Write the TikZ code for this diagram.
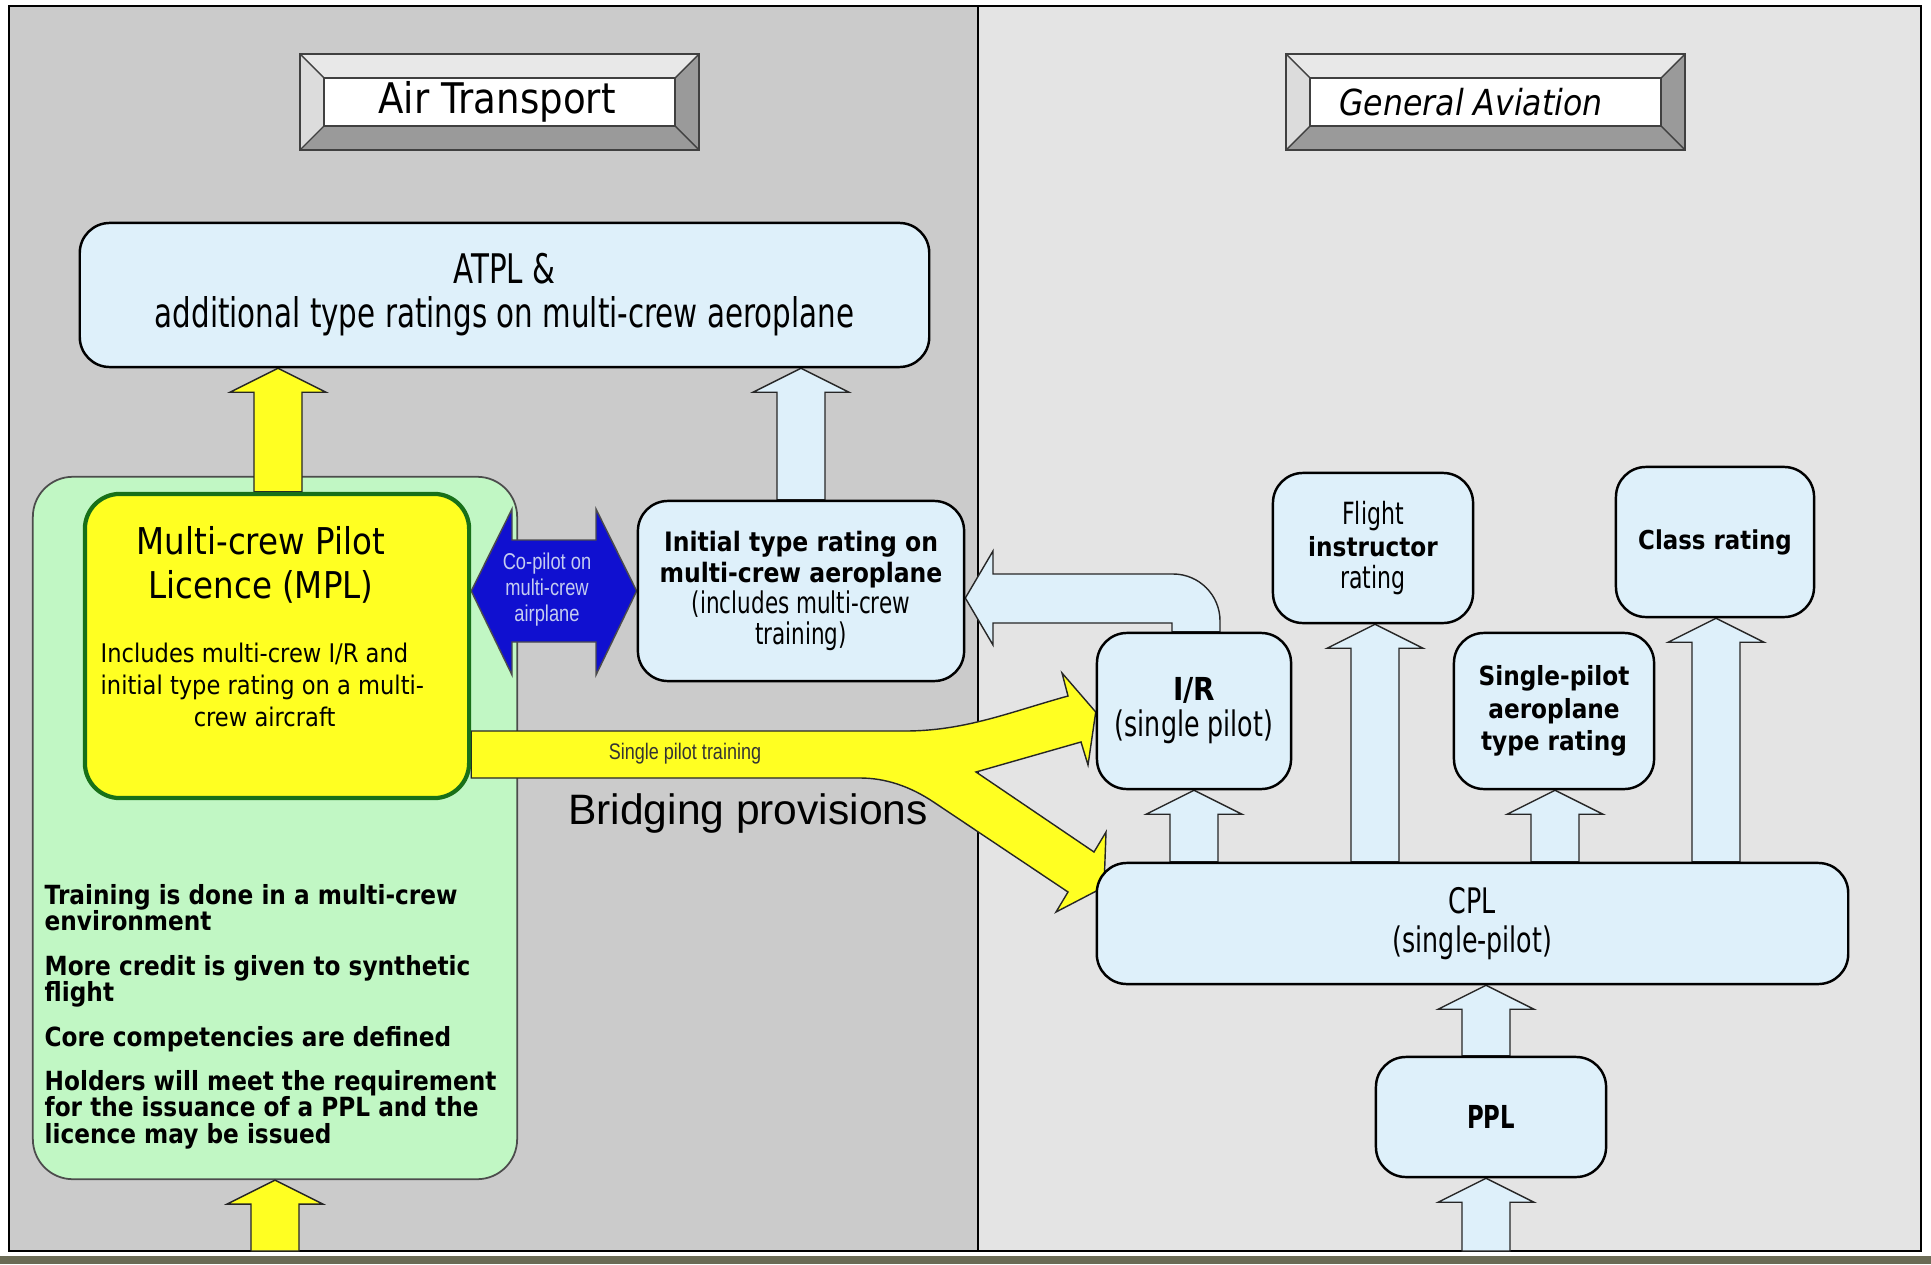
\documentclass[tikz,border=0pt]{standalone}
\usepackage{fontspec}
\setmainfont{DejaVu Sans}
\newfontfamily\comicfont[FakeStretch=0.88]{DejaVu Sans}
\newfontfamily\comicnarrow[FakeStretch=0.72]{DejaVu Sans}
\newfontfamily\arialfont{Liberation Sans}
\newfontfamily\arialnarrow[FakeStretch=0.8]{Liberation Sans}
\usetikzlibrary{calc}

\definecolor{leftgrey}{RGB}{203,203,203}
\definecolor{rightgrey}{RGB}{228,228,228}
\definecolor{boxblue}{RGB}{222,240,250}
\definecolor{arryellow}{RGB}{255,255,34}
\definecolor{envgreen}{RGB}{193,247,196}
\definecolor{mplgreen}{RGB}{24,112,24}
\definecolor{copilotblue}{RGB}{16,16,208}
\definecolor{copilottext}{RGB}{196,204,240}
\definecolor{bandolive}{RGB}{107,107,85}
\definecolor{bevellight}{RGB}{232,232,232}
\definecolor{bevelside}{RGB}{220,220,220}
\definecolor{beveldark}{RGB}{154,154,154}

\pgfdeclarelayer{panels}
\pgfdeclarelayer{arrows}
\pgfsetlayers{panels,arrows,main}

\newcommand{\fs}[2]{\fontsize{#1}{#2}\selectfont}

% bevelled title plate: left x, right x, node name, text x, text
\newcommand{\titleplate}[5]{%
  \fill[bevellight] (#1,54) -- (#2,54) -- (#2-24,78) -- (#1+24,78) -- cycle;
  \fill[bevelside] (#1,54) -- (#1+24,78) -- (#1+24,126) -- (#1,150) -- cycle;
  \fill[beveldark] (#2,54) -- (#2,150) -- (#2-24,126) -- (#2-24,78) -- cycle;
  \fill[beveldark] (#1,150) -- (#2,150) -- (#2-24,126) -- (#1+24,126) -- cycle;
  \draw[line width=0.4pt, black!75] (#1,54) -- (#1+24,78) (#2,54) -- (#2-24,78)
    (#1,150) -- (#1+24,126) (#2,150) -- (#2-24,126);
  \filldraw[fill=white, draw=black!75, line width=0.4pt] (#1+24,78) rectangle (#2-24,126);
  \draw[line width=0.5pt, black!75] (#1,54) rectangle (#2,150);
  \node (#3) at (#4,102) {#5};}

% block arrow pointing up: style, x, lower anchor, upper anchor
\newcommand{\blockup}[4]{%
  \filldraw[#1] (#2-24,0 |- #3) -- ($(#2-24,0 |- #4)+(0,24)$)
    -- ($(#2-48,0 |- #4)+(0,24)$) -- (#2,0 |- #4)
    -- ($(#2+48,0 |- #4)+(0,24)$) -- ($(#2+24,0 |- #4)+(0,24)$)
    -- (#2+24,0 |- #3) -- cycle;}

\tikzset{
  lbbox/.style={draw, line width=0.7pt, fill=boxblue, rounded corners=0.3cm,
    inner sep=0pt, align=center},
  envbox/.style={draw=black!70, line width=0.5pt, fill=envgreen, rounded corners=0.4cm,
    inner sep=0pt},
  mplbox/.style={draw=mplgreen, line width=1.2pt, fill=arryellow, rounded corners=0.35cm,
    inner sep=0pt},
  bluearr/.style={fill=boxblue, draw=black!85, line width=0.4pt},
  yelarr/.style={fill=arryellow, draw=black!85, line width=0.4pt},
  copilotarr/.style={fill=copilotblue, draw=black!70, line width=0.4pt},
}

\begin{document}
\begin{tikzpicture}[x=0.01cm, y=-0.01cm]
    \useasboundingbox (0,0) rectangle (1931,1264);

    \begin{pgfonlayer}{panels}
        \fill[white] (0,0) rectangle (1931,1264);
        \fill[leftgrey] (9,6) rectangle (978,1251);
        \fill[rightgrey] (978,6) rectangle (1921,1251);
        \draw[line width=0.5pt] (9,6) rectangle (1921,1251);
        \draw[line width=0.5pt] (978,6) -- (978,1251);
        \fill[bandolive] (0,1256) rectangle (1931,1264);
        \coordinate (framebottom) at (0,1251);
        \node[envbox, minimum width=4.84cm, minimum height=7.02cm] (mplenv) at (275,828) {};
    \end{pgfonlayer}

    \titleplate{300}{699}{airtitle}{497}{\comicfont\fs{12}{13}Air Transport}
    \titleplate{1286}{1685}{gatitle}{1471}{\comicfont\itshape\fs{10.2}{13}General Aviation}

    % air transport side
    \node[lbbox, minimum width=8.49cm, minimum height=1.44cm, font=\comicnarrow\fs{11.6}{12.5}]
        (atpl) at (504.5,295) {ATPL \&\\additional type ratings on multi-crew aeroplane};
    \node[mplbox, minimum width=3.84cm, minimum height=3.04cm] (mpl) at (277,646) {};
    \node[font=\comicfont\fs{10.5}{12.5}, align=center] (mpltitle) at (261,565)
        {Multi-crew Pilot\\Licence (MPL)};
    \node[font=\comicfont\fs{7.3}{9.2}, align=left, anchor=north west, inner sep=0pt]
        (mpltext) at (100,642)
        {Includes multi-crew I/R and\\initial type rating on a multi-\\\hspace*{0.93cm}crew aircraft};
    \node[lbbox, minimum width=3.26cm, minimum height=1.8cm, font=\comicfont\fs{7.6}{8.8}]
        (itr) at (801,591) {\textbf{Initial type rating on}\\\textbf{multi-crew aeroplane}\\
        {\comicnarrow\fs{8.5}{8.8}(includes multi-crew}\\{\comicnarrow\fs{8.5}{8.8}training)}};
    \node[font=\comicfont\bfseries\fs{7.5}{7.45}, align=left, anchor=north west, inner sep=0pt]
        (envtext) at (44,884)
        {Training is done in a multi-crew\\environment\\[5.2pt]
         More credit is given to synthetic\\flight\\[5.2pt]
         Core competencies are defined\\[5.2pt]
         Holders will meet the requirement\\for the issuance of a PPL and the\\licence may be issued};

    % general aviation side
    \node[lbbox, minimum width=1.94cm, minimum height=1.56cm, font=\comicnarrow\fs{10}{10.2}]
        (ir) at (1194,711) {{\comicfont\bfseries\fs{9}{10.2}I/R}\\(single pilot)};
    \node[lbbox, minimum width=2cm, minimum height=1.5cm, font=\comicnarrow\fs{8.7}{9.1}]
        (fir) at (1373,548) {Flight\\{\comicfont\bfseries\fs{7.5}{9.1}instructor}\\rating};
    \node[lbbox, minimum width=1.98cm, minimum height=1.5cm, font=\comicfont\bfseries\fs{7.4}{9}]
        (cls) at (1715,542) {Class rating};
    \node[lbbox, minimum width=2cm, minimum height=1.56cm, font=\comicfont\bfseries\fs{7.5}{9.2}]
        (sptr) at (1554,711) {Single-pilot\\aeroplane\\type rating};
    \node[lbbox, minimum width=7.51cm, minimum height=1.21cm, font=\comicnarrow\fs{10}{11}]
        (cpl) at (1472.5,923.5) {CPL\\(single-pilot)};
    \node[lbbox, minimum width=2.3cm, minimum height=1.2cm, font=\comicnarrow\bfseries\fs{9}{10}]
        (ppl) at (1491,1117) {PPL};

    \node[font=\arialfont\fs{12.1}{13}] (bridging) at (748,813) {Bridging provisions};

    \begin{pgfonlayer}{arrows}
        \blockup{yelarr}{278}{mpl.north}{atpl.south}
        \blockup{bluearr}{801}{itr.north}{atpl.south}
        \blockup{yelarr}{275}{framebottom}{mplenv.south}
        \blockup{bluearr}{1486}{framebottom}{ppl.south}
        \blockup{bluearr}{1486}{ppl.north}{cpl.south}
        \blockup{bluearr}{1194}{cpl.north}{ir.south}
        \blockup{bluearr}{1375}{cpl.north}{fir.south}
        \blockup{bluearr}{1555}{cpl.north}{sptr.south}
        \blockup{bluearr}{1716}{cpl.north}{cls.south}

        % I/R back to the initial type rating
        \filldraw[bluearr] (1172,0 |- ir.north) -- (1172,623) -- (993,623) -- (993,645)
            -- (itr.east |- 0,598) -- (993,551) -- (993,574) -- (1173,574)
            .. controls (1199,574) and (1220,595) .. (1220,621) -- (1220,0 |- ir.north) -- cycle;

        % co-pilot double arrow
        \filldraw[copilotarr] (mpl.east |- 0,591) -- (512,509) -- (512,540) -- (596,540)
            -- (596,509) -- (itr.west |- 0,591) -- (596,675) -- (596,642) -- (512,642)
            -- (512,675) -- cycle;

        % single pilot training, split towards I/R and CPL
        \filldraw[yelarr] (mpl.east |- 0,731) -- (905,731)
            .. controls (965,731) and (1010,712) .. (1068,696)
            -- (1062,673) -- (ir.west |- 0,712) -- (1088,765) -- (1081,742)
            -- (976,772) -- (1094,852) -- (1106,832) -- (1104,887) -- (1056,912)
            -- (1068,892) -- (935,803)
            .. controls (910,786) and (885,778) .. (860,778)
            -- (mpl.east |- 0,778) -- cycle;
    \end{pgfonlayer}

    \node[font=\arialnarrow\fs{6.5}{7.4}, text=copilottext, align=center] (copilot) at (547,590)
        {Co-pilot on\\multi-crew\\airplane};
    \node[font=\arialnarrow\fs{6.4}{7}, text=black!80] (sptrain) at (685,754) {Single pilot training};

\end{tikzpicture}
\end{document}
